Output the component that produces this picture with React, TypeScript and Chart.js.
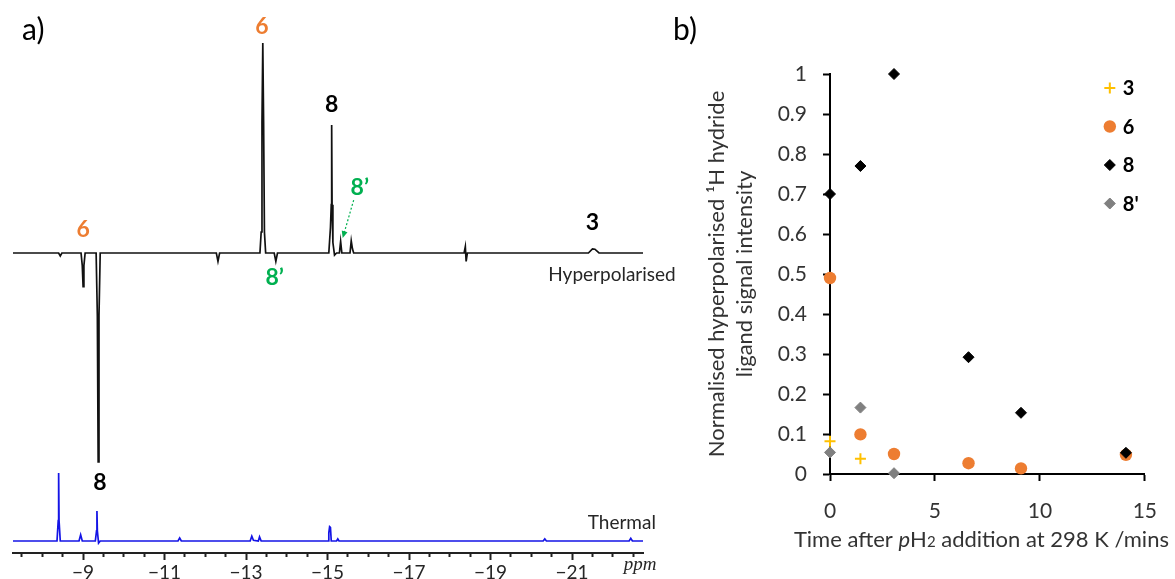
import React, { useEffect, useRef } from 'react';
import { Chart, registerables } from 'chart.js';
import { drawPoint } from 'chart.js/helpers';

Chart.register(...registerables);

const SANS = "Lato, 'Noto Sans', 'DejaVu Sans', sans-serif";
const SERIF = "'Liberation Serif', 'DejaVu Serif', serif";

// ================= Panel a) : 1H hydride NMR spectra =================
const ppmAxisMin = -22.74;
const ppmAxisMax = -7.28;
const ppmTickStep = 0.5;
const ppmTickLabels = [-9, -11, -13, -15, -17, -19, -21];
const ppmUnit = 'ppm';

// [chemical shift (ppm), relative intensity]
const hyperpolarisedSpectrum: [number, number][] = [
  [-7.28, 0],
  [-8.4, 0], [-8.44, -0.014], [-8.48, 0],
  [-8.95, 0], [-8.98, -0.06], [-9.0, -0.16], [-9.02, -0.06], [-9.05, 0],
  [-9.32, 0], [-9.35, -0.3], [-9.37, -0.995], [-9.39, -0.3], [-9.42, 0],
  [-12.27, 0], [-12.31, -0.04], [-12.35, 0],
  [-13.34, 0], [-13.37, 0.1], [-13.39, 0.62], [-13.41, 1.0], [-13.43, 0.62], [-13.45, 0.1], [-13.48, 0],
  [-13.69, 0], [-13.73, -0.04], [-13.77, 0],
  [-15.03, 0], [-15.07, 0.12], [-15.09, 0.23], [-15.1, 0.61], [-15.11, 0.23], [-15.13, 0.05], [-15.17, -0.01], [-15.22, 0],
  [-15.29, 0], [-15.32, 0.055], [-15.35, 0],
  [-15.55, 0], [-15.58, 0.058], [-15.61, 0.02], [-15.64, 0],
  [-18.35, 0], [-18.38, 0.03], [-18.4, -0.04], [-18.43, 0],
  [-21.4, 0], [-21.5, 0.02], [-21.56, 0.018], [-21.66, 0],
  [-22.74, 0],
];

const thermalSpectrum: [number, number][] = [
  [-7.28, 0],
  [-8.36, 0], [-8.39, 0.3], [-8.4, 1.0], [-8.41, 0.3], [-8.44, 0],
  [-8.9, 0], [-8.94, 0.09], [-8.98, 0],
  [-9.3, 0], [-9.33, 0.15], [-9.34, 0.44], [-9.35, 0.15], [-9.38, -0.03], [-9.42, 0],
  [-11.33, 0], [-11.37, 0.045], [-11.41, 0],
  [-13.1, 0], [-13.14, 0.07], [-13.18, 0.01], [-13.3, 0], [-13.33, 0.06], [-13.37, 0],
  [-15.01, 0], [-15.03, 0.12], [-15.05, 0.21], [-15.07, 0.2], [-15.09, 0],
  [-15.22, 0], [-15.25, 0.03], [-15.28, 0],
  [-20.29, 0], [-20.33, 0.03], [-20.37, 0],
  [-22.4, 0], [-22.44, 0.04], [-22.48, 0],
  [-22.74, 0],
];

// peak assignments: text, kind, ppm, axis, level (in that axis' intensity units)
const peakLabels = [
  { text: '6', kind: 'orange', ppm: -13.39, axis: 'yH', level: 1.076 },
  { text: '8', kind: 'black', ppm: -15.1, axis: 'yH', level: 0.705 },
  { text: '8\u2019', kind: 'green', ppm: -15.79, axis: 'yH', level: 0.31 },
  { text: '6', kind: 'orange', ppm: -9.0, axis: 'yH', level: 0.11 },
  { text: '8\u2019', kind: 'green', ppm: -13.7, axis: 'yH', level: -0.119 },
  { text: '3', kind: 'black', ppm: -21.5, axis: 'yH', level: 0.143 },
  { text: '8', kind: 'black', ppm: -9.41, axis: 'yH', level: -1.095 },
  { text: 'Hyperpolarised', kind: 'trace', ppm: -21.98, axis: 'yH', level: -0.105 },
  { text: 'Thermal', kind: 'trace', ppm: -22.22, axis: 'yT', level: 0.265 },
];
const arrowFrom = { ppm: -15.64, level: 0.252 };
const arrowTo = { ppm: -15.37, level: 0.071 };

// ================= Panel b) : signal intensity vs time =================
const seriesNames = ['3', '6', '8', "8'"];
const times3 = [0, 1.45];
const values3 = [0.082, 0.038];
const times6 = [0, 1.45, 3.05, 6.6, 9.1, 14.1];
const values6 = [0.49, 0.099, 0.05, 0.027, 0.014, 0.048];
const times8 = [0, 1.45, 3.05, 6.6, 9.1, 14.1];
const values8 = [0.7, 0.77, 1.0, 0.292, 0.153, 0.053];
const times8p = [0, 1.45, 3.05];
const values8p = [0.054, 0.166, 0.002];

const timeTickLabels = ['0', '5', '10', '15'];
const intensityTickLabels = ['0', '0.1', '0.2', '0.3', '0.4', '0.5', '0.6', '0.7', '0.8', '0.9', '1'];
const yAxisTitle = ['Normalised hyperpolarised \u00B9H hydride', 'ligand signal intensity'];
const xAxisTitleParts = [
  { text: 'Time after ', style: 'normal' },
  { text: 'p', style: 'italic' },
  { text: 'H', style: 'normal' },
  { text: '2', style: 'small' },
  { text: ' addition at 298 K /mins', style: 'normal' },
];

const COLORS: any = {
  orange: '#ED7D31',
  green: '#00B050',
  yellow: '#FFC000',
  grey: '#808080',
  black: '#000000',
  trace: '#262626',
  blue: '#1414E6',
  text: '#333333',
};

const toXY = (xs: number[], ys: number[]) => xs.map((x, i) => ({ x, y: ys[i] }));

const spectrumPlugin = {
  id: 'spectrumAnnotations',
  afterDraw(chart: any) {
    const { ctx, scales, chartArea } = chart;
    const xs = scales.x;
    ctx.save();
    for (const lab of peakLabels) {
      const px = xs.getPixelForValue(lab.ppm);
      const py = scales[lab.axis].getPixelForValue(lab.level);
      ctx.font = lab.kind === 'trace' ? `19px ${SANS}` : `bold 23px ${SANS}`;
      ctx.fillStyle = COLORS[lab.kind];
      ctx.textAlign = 'center';
      ctx.textBaseline = 'middle';
      ctx.fillText(lab.text, px, py);
    }
    // dotted arrow to the minor 8' peak
    const x1 = xs.getPixelForValue(arrowFrom.ppm);
    const y1 = scales.yH.getPixelForValue(arrowFrom.level);
    const x2 = xs.getPixelForValue(arrowTo.ppm);
    const y2 = scales.yH.getPixelForValue(arrowTo.level);
    const ang = Math.atan2(y2 - y1, x2 - x1);
    ctx.strokeStyle = COLORS.green;
    ctx.fillStyle = COLORS.green;
    ctx.lineWidth = 1.2;
    ctx.setLineDash([2, 2]);
    ctx.beginPath();
    ctx.moveTo(x1, y1);
    ctx.lineTo(x2 - 5 * Math.cos(ang), y2 - 5 * Math.sin(ang));
    ctx.stroke();
    ctx.setLineDash([]);
    ctx.beginPath();
    ctx.moveTo(x2, y2);
    ctx.lineTo(x2 - 7 * Math.cos(ang) + 3 * Math.sin(ang), y2 - 7 * Math.sin(ang) - 3 * Math.cos(ang));
    ctx.lineTo(x2 - 7 * Math.cos(ang) - 3 * Math.sin(ang), y2 - 7 * Math.sin(ang) + 3 * Math.cos(ang));
    ctx.closePath();
    ctx.fill();
    // unit label
    ctx.font = `italic 19px ${SERIF}`;
    ctx.fillStyle = COLORS.trace;
    ctx.textAlign = 'center';
    ctx.textBaseline = 'middle';
    ctx.fillText(ppmUnit, chartArea.right - 3, chartArea.bottom + 12);
    // panel letter
    ctx.font = `30px ${SANS}`;
    ctx.fillStyle = '#000';
    ctx.textAlign = 'left';
    ctx.fillText('a)', 22, 30);
    ctx.restore();
  },
};

const seriesStyles = [
  { pointStyle: 'cross', radius: 5.5, backgroundColor: COLORS.yellow, borderColor: COLORS.yellow, borderWidth: 2, order: 1 },
  { pointStyle: 'circle', radius: 6.2, backgroundColor: COLORS.orange, borderColor: COLORS.orange, borderWidth: 0, order: 4 },
  { pointStyle: 'rectRot', radius: 5.5, backgroundColor: COLORS.black, borderColor: COLORS.black, borderWidth: 1, order: 2 },
  { pointStyle: 'rectRot', radius: 5.5, backgroundColor: COLORS.grey, borderColor: COLORS.grey, borderWidth: 1, order: 3 },
];

const kineticsPlugin = {
  id: 'kineticsDecor',
  afterDraw(chart: any) {
    const { ctx, chartArea } = chart;
    const xs = chart.scales.x;
    ctx.save();
    // legend (inside plot area, top right)
    const lx = chartArea.right - 35;
    chart.data.datasets.forEach((ds: any, i: number) => {
      const st = seriesStyles[i];
      const ly = chartArea.top + 14 + i * 38.5;
      ctx.fillStyle = st.backgroundColor;
      ctx.strokeStyle = st.borderColor;
      ctx.lineWidth = st.borderWidth;
      drawPoint(ctx, { pointStyle: st.pointStyle, radius: st.radius, rotation: 0, borderWidth: st.borderWidth } as any, lx, ly);
      ctx.font = `bold 20px ${SANS}`;
      ctx.fillStyle = '#000';
      ctx.textAlign = 'left';
      ctx.textBaseline = 'middle';
      ctx.fillText(ds.label, lx + 13, ly + 1);
    });
    // x-axis title with italic p and small 2
    const size = 22;
    const fontFor = (s: string) =>
      s === 'italic' ? `italic ${size}px ${SANS}` : s === 'small' ? `${Math.round(size * 0.7)}px ${SANS}` : `${size}px ${SANS}`;
    const widths = xAxisTitleParts.map((p) => {
      ctx.font = fontFor(p.style);
      return ctx.measureText(p.text).width;
    });
    const total = widths.reduce((a, b) => a + b, 0);
    let x = (xs.left + xs.right) / 2 - total / 2 - 6;
    const y = xs.top + 73;
    ctx.fillStyle = COLORS.text;
    ctx.textAlign = 'left';
    ctx.textBaseline = 'alphabetic';
    xAxisTitleParts.forEach((p, i) => {
      ctx.font = fontFor(p.style);
      ctx.fillText(p.text, x, y);
      x += widths[i];
    });
    // panel letter
    ctx.font = `30px ${SANS}`;
    ctx.fillStyle = '#000';
    ctx.textBaseline = 'middle';
    ctx.fillText('b)', 13, 30);
    ctx.restore();
  },
};

export default function App() {
  const leftRef = useRef<HTMLCanvasElement>(null);
  const rightRef = useRef<HTMLCanvasElement>(null);

  useEffect(() => {
    const isLabelled = (v: number) => ppmTickLabels.some((t) => Math.abs(t - v) < 1e-6);

    const left = new Chart(leftRef.current as HTMLCanvasElement, {
      type: 'scatter',
      data: {
        datasets: [
          {
            label: 'Hyperpolarised',
            data: hyperpolarisedSpectrum.map(([x, y]) => ({ x, y })),
            yAxisID: 'yH',
            showLine: true,
            borderColor: '#111111',
            borderWidth: 1.7,
            pointRadius: 0,
            tension: 0,
          },
          {
            label: 'Thermal',
            data: thermalSpectrum.map(([x, y]) => ({ x, y })),
            yAxisID: 'yT',
            showLine: true,
            borderColor: COLORS.blue,
            borderWidth: 1.7,
            pointRadius: 0,
            tension: 0,
          },
        ] as any,
      },
      options: {
        responsive: false,
        animation: false,
        events: [],
        layout: { padding: { left: 13, right: 37, top: 30, bottom: 0 } },
        plugins: { legend: { display: false }, tooltip: { enabled: false } },
        scales: {
          x: {
            type: 'linear',
            reverse: true,
            min: ppmAxisMin,
            max: ppmAxisMax,
            afterBuildTicks: (scale: any) => {
              const ticks = [];
              for (let k = Math.ceil(ppmAxisMin / ppmTickStep); k <= Math.floor(ppmAxisMax / ppmTickStep); k++) {
                ticks.push({ value: k * ppmTickStep });
              }
              scale.ticks = ticks;
            },
            ticks: {
              autoSkip: false,
              maxRotation: 0,
              padding: 1,
              color: COLORS.trace,
              font: { family: SANS, size: 19 },
              callback: (v: any) => (isLabelled(Number(v)) ? '\u2212' + Math.abs(Number(v)) : ''),
            },
            grid: {
              display: true,
              drawOnChartArea: false,
              drawTicks: true,
              tickLength: 7,
              tickWidth: 2,
              tickColor: '#222',
              tickBorderDash: (c: any) => (c.tick && isLabelled(c.tick.value) ? [] : [3, 40]),
            } as any,
            border: { display: true, color: '#222', width: 2 },
            afterFit: (s: any) => {
              s.height = 26;
            },
          },
          yH: { type: 'linear', display: false, min: -1.4286, max: 1.0619 },
          yT: { type: 'linear', display: false, min: -0.1765, max: 7.515 },
        } as any,
      },
      plugins: [spectrumPlugin],
    });

    const seriesTimes = [times3, times6, times8, times8p];
    const seriesValues = [values3, values6, values8, values8p];
    const right = new Chart(rightRef.current as HTMLCanvasElement, {
      type: 'scatter',
      data: {
        datasets: seriesNames.map((name, i) => ({
          label: name,
          data: toXY(seriesTimes[i], seriesValues[i]),
          pointStyle: seriesStyles[i].pointStyle,
          pointRadius: seriesStyles[i].radius,
          pointBackgroundColor: seriesStyles[i].backgroundColor,
          pointBorderColor: seriesStyles[i].borderColor,
          pointBorderWidth: seriesStyles[i].borderWidth,
          order: seriesStyles[i].order,
          clip: false,
        })) as any,
      },
      options: {
        responsive: false,
        animation: false,
        events: [],
        layout: { padding: { left: 0, right: 22, top: 74, bottom: 0 } },
        plugins: { legend: { display: false }, tooltip: { enabled: false } },
        scales: {
          x: {
            type: 'linear',
            min: 0,
            max: 15,
            ticks: {
              stepSize: 5,
              padding: 18,
              color: COLORS.text,
              font: { family: SANS, size: 21 },
              callback: (v: any) => timeTickLabels[Math.round(Number(v) / 5)] ?? '',
            },
            grid: { display: true, drawOnChartArea: false, drawTicks: true, tickLength: 7, tickWidth: 2, tickColor: '#000' },
            border: { display: true, color: '#000', width: 2 },
            afterFit: (s: any) => {
              s.height = 105;
            },
          },
          y: {
            type: 'linear',
            min: 0,
            max: 1,
            ticks: {
              stepSize: 0.1,
              padding: 16,
              color: COLORS.text,
              font: { family: SANS, size: 21 },
              callback: (v: any) => intensityTickLabels[Math.round(Number(v) * 10)] ?? '',
            },
            grid: { display: true, drawOnChartArea: false, drawTicks: true, tickLength: 7, tickWidth: 2, tickColor: '#000' },
            border: { display: true, color: '#000', width: 2 },
            title: {
              display: true,
              text: yAxisTitle,
              color: COLORS.text,
              font: { family: SANS, size: 22, lineHeight: 1.27 },
              padding: { top: 43, bottom: 0 },
            },
            afterFit: (s: any) => {
              s.width = 170;
            },
          },
        } as any,
      },
      plugins: [kineticsPlugin],
    });

    return () => {
      left.destroy();
      right.destroy();
    };
  }, []);

  return (
    <div style={{ position: 'absolute', left: 0, top: 0, width: 1175, height: 579, background: '#ffffff', overflow: 'hidden' }}>
      <canvas ref={leftRef} width={680} height={579} style={{ position: 'absolute', left: 0, top: 0, width: 680, height: 579 }} />
      <canvas ref={rightRef} width={515} height={579} style={{ position: 'absolute', left: 660, top: 0, width: 515, height: 579 }} />
    </div>
  );
}
